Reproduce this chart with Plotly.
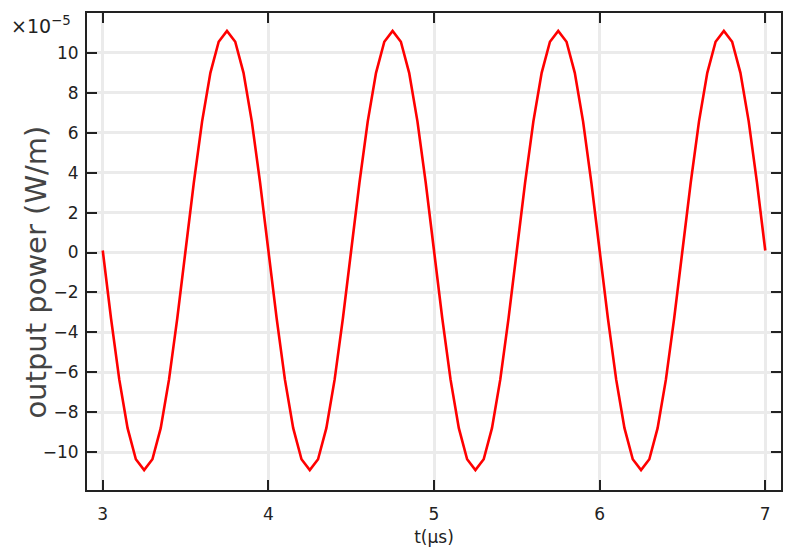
import plotly.graph_objects as go

t_us = [3.00, 3.05, 3.10, 3.15, 3.20, 3.25, 3.30, 3.35, 3.40, 3.45,
        3.50, 3.55, 3.60, 3.65, 3.70, 3.75, 3.80, 3.85, 3.90, 3.95,
        4.00, 4.05, 4.10, 4.15, 4.20, 4.25, 4.30, 4.35, 4.40, 4.45,
        4.50, 4.55, 4.60, 4.65, 4.70, 4.75, 4.80, 4.85, 4.90, 4.95,
        5.00, 5.05, 5.10, 5.15, 5.20, 5.25, 5.30, 5.35, 5.40, 5.45,
        5.50, 5.55, 5.60, 5.65, 5.70, 5.75, 5.80, 5.85, 5.90, 5.95,
        6.00, 6.05, 6.10, 6.15, 6.20, 6.25, 6.30, 6.35, 6.40, 6.45,
        6.50, 6.55, 6.60, 6.65, 6.70, 6.75, 6.80, 6.85, 6.90, 6.95,
        7.00]

# output power in units of 1e-5 W/m
power_e5 = [0.10, -3.30, -6.37, -8.80, -10.36, -10.90, -10.36, -8.80, -6.37, -3.30,
            0.10, 3.50, 6.57, 9.00, 10.56, 11.10, 10.56, 9.00, 6.57, 3.50,
            0.10, -3.30, -6.37, -8.80, -10.36, -10.90, -10.36, -8.80, -6.37, -3.30,
            0.10, 3.50, 6.57, 9.00, 10.56, 11.10, 10.56, 9.00, 6.57, 3.50,
            0.10, -3.30, -6.37, -8.80, -10.36, -10.90, -10.36, -8.80, -6.37, -3.30,
            0.10, 3.50, 6.57, 9.00, 10.56, 11.10, 10.56, 9.00, 6.57, 3.50,
            0.10, -3.30, -6.37, -8.80, -10.36, -10.90, -10.36, -8.80, -6.37, -3.30,
            0.10, 3.50, 6.57, 9.00, 10.56, 11.10, 10.56, 9.00, 6.57, 3.50,
            0.10]

x_ticks = [3, 4, 5, 6, 7]
y_ticks = [-10, -8, -6, -4, -2, 0, 2, 4, 6, 8, 10]

fig = go.Figure()
fig.add_trace(go.Scatter(x=t_us, y=power_e5, mode="lines",
                         line=dict(color="#ff0000", width=2.6),
                         showlegend=False))

axis_common = dict(
    showline=True, linecolor="#222222", linewidth=2, mirror="allticks",
    ticks="inside", ticklen=10, tickwidth=1.5, tickcolor="#222222",
    showgrid=True, gridcolor="#ebebeb", gridwidth=2.5, zeroline=False,
    tickfont=dict(family="DejaVu Sans", size=17, color="#222222"),
)

fig.update_layout(
    width=794, height=559,
    margin=dict(l=87, r=11, t=12, b=69),
    paper_bgcolor="white", plot_bgcolor="white",
    xaxis=dict(range=[2.905, 7.095], tickvals=x_ticks, ticklabelstandoff=8,
               title=dict(text="t(µs)", font=dict(family="DejaVu Sans", size=17, color="#222222"),
                          standoff=8),
               **axis_common),
    yaxis=dict(range=[-11.9, 12.0], tickvals=y_ticks, ticklabelstandoff=3,
               **axis_common),
    annotations=[
        dict(text="×10<sup>−5</sup>", xref="paper", yref="paper",
             x=-0.113, y=0.974, xanchor="left", yanchor="middle",
             showarrow=False,
             font=dict(family="DejaVu Sans", size=19, color="#222222")),
        dict(text="output power (W/m)", xref="paper", yref="paper",
             x=-0.0733, y=0.456, xanchor="center", yanchor="middle",
             textangle=-90, showarrow=False,
             font=dict(family="DejaVu Sans", size=29, color="#444444")),
    ],
)

fig.write_html("out.html")
